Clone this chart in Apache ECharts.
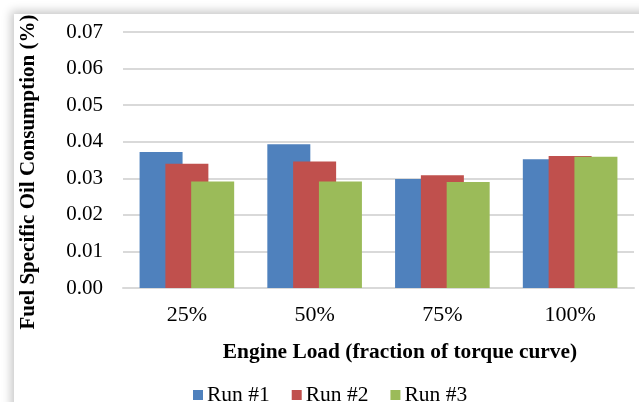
<!DOCTYPE html>
<html lang="en">
<head>
    <meta charset="UTF-8">
    <title>Fuel Specific Oil Consumption</title>
    <script src="https://cdn.jsdelivr.net/npm/echarts@6/dist/echarts.min.js"></script>
    <style>
        html, body { margin: 0; padding: 0; background: #fff; overflow: hidden; }
        #panel {
            position: absolute; left: 14px; top: 14px; width: 640px; height: 400px;
            background: #fff;
            box-shadow: -3px -3px 9px rgba(0, 0, 0, 0.22);
        }
        #chart { position: absolute; left: 0; top: 0; width: 639px; height: 402px; }
    </style>
</head>
<body>
<div id="panel"></div>
<div id="chart"></div>
<script>
// data
var loads = ['25%', '50%', '75%', '100%'];
var run1 = [0.0372, 0.0393, 0.0298, 0.0352];
var run2 = [0.0340, 0.0346, 0.0308, 0.0361];
var run3 = [0.0291, 0.0291, 0.0290, 0.0359];
var yTicks = [0, 0.01, 0.02, 0.03, 0.04, 0.05, 0.06, 0.07];

var serif = '"Liberation Serif", "Times New Roman", serif';
var colors = ['#4F81BD', '#C0504D', '#9BBB59'];

var chart = echarts.init(document.getElementById('chart'));

function barSeries(name, data, idx) {
    return {
        name: name,
        type: 'bar',
        data: data,
        barWidth: 43,
        barGap: '-40%',
        itemStyle: { color: colors[idx] },
        z: 2 + idx
    };
}

var option = {
    animation: false,
    textStyle: { fontFamily: serif },
    grid: { left: 123, right: 5, top: 32, bottom: 114 },
    legend: {
        data: ['Run #1', 'Run #2', 'Run #3'],
        left: 188,
        top: 379,
        itemWidth: 10,
        itemHeight: 10,
        itemGap: 22,
        icon: 'rect',
        textStyle: { fontFamily: serif, fontSize: 21.5, color: '#000', padding: [0, 0, 0, -1] }
    },
    xAxis: {
        type: 'category',
        data: loads,
        axisLine: { lineStyle: { color: '#d9d9d9', width: 2 } },
        axisTick: { show: false },
        axisLabel: { color: '#000', fontSize: 22, fontFamily: serif, margin: 16 }
    },
    yAxis: {
        type: 'value',
        min: yTicks[0],
        max: yTicks[yTicks.length - 1],
        interval: 0.01,
        axisLine: { show: false },
        axisTick: { show: false },
        splitLine: { lineStyle: { color: '#d9d9d9', width: 2 } },
        axisLabel: {
            color: '#000', fontSize: 21, fontFamily: serif, margin: 20,
            formatter: function (v) { return v.toFixed(2); }
        }
    },
    graphic: [
        {
            type: 'text',
            x: 29, y: 172,
            rotation: Math.PI / 2,
            style: {
                text: 'Fuel Specific Oil Consumption (%)',
                font: 'bold 21px ' + serif,
                fill: '#000',
                textAlign: 'center',
                textVerticalAlign: 'middle'
            }
        },
        {
            type: 'text',
            x: 400, y: 352,
            style: {
                text: 'Engine Load (fraction of torque curve)',
                font: 'bold 21.4px ' + serif,
                fill: '#000',
                textAlign: 'center',
                textVerticalAlign: 'middle'
            }
        }
    ],
    series: [
        barSeries('Run #1', run1, 0),
        barSeries('Run #2', run2, 1),
        barSeries('Run #3', run3, 2)
    ]
};

chart.setOption(option);
</script>
</body>
</html>
